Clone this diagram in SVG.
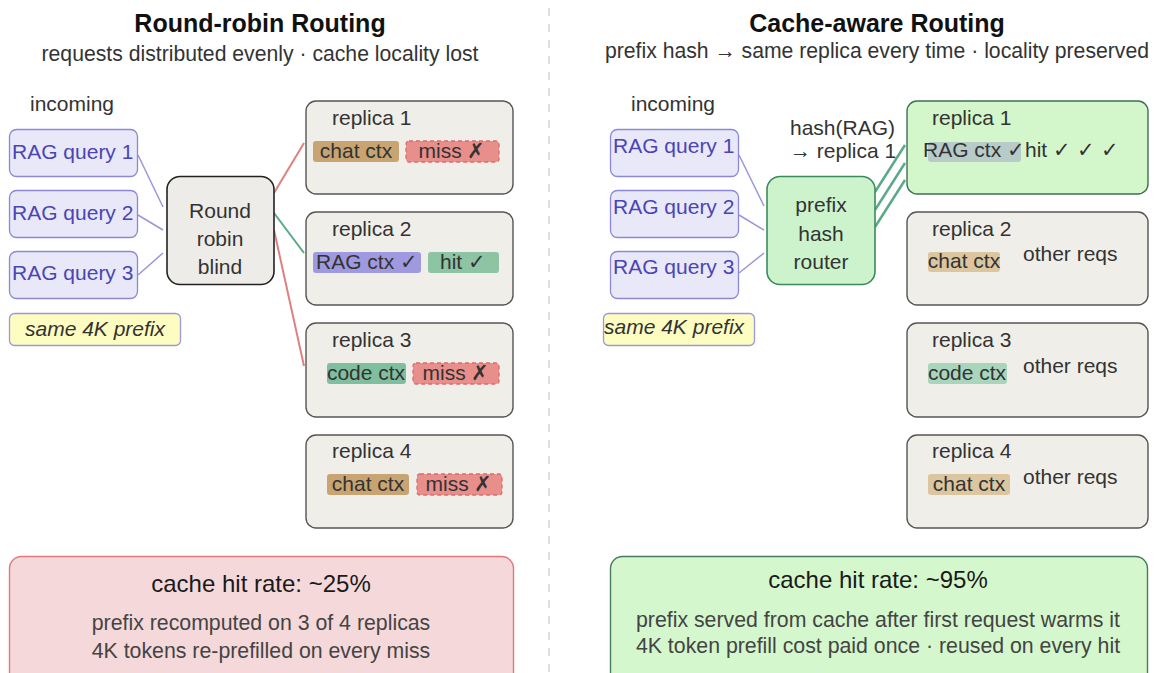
<svg xmlns="http://www.w3.org/2000/svg" width="1160" height="673" viewBox="0 0 1160 673">
  <style>
    text { font-family: "Liberation Sans", Arial, sans-serif; font-size: 21px; fill: #333; }
    .title { font-size: 25px; font-weight: bold; fill: #111; text-anchor: middle; }
    .sub { fill: #333; text-anchor: middle; font-size: 21.2px; }
    .mid { text-anchor: middle; }
    .query rect { fill: #e8e8f8; stroke: #8c88d8; stroke-width: 1.3; }
    .query text { fill: #4b44b5; }
    .note rect { fill: #fdfdc2; stroke: #9c98e0; stroke-width: 1.3; }
    .note text { font-style: italic; fill: #333; }
    .box { fill: #f0eee9; stroke: #555; stroke-width: 1.4; }
    .warm .box { fill: #d3f7cb; stroke: #3f6f55; }
    .miss { fill: #e88f8c; stroke: #e06a6a; stroke-width: 1.3; stroke-dasharray: 4 3; }
    .head { font-size: 24px; fill: #1a1a1a; text-anchor: middle; }
    .body { fill: #444; text-anchor: middle; font-size: 21.3px; }
    .link-in { stroke: #9a96dc; stroke-width: 1.5; fill: none; }
    .link-miss { stroke: #e08080; stroke-width: 2; fill: none; }
    .link-hit { stroke: #5aaa84; stroke-width: 2; fill: none; }
    .link-hash { stroke: #5aaa88; stroke-width: 2.5; fill: none; }
  </style>

  <rect width="1160" height="673" fill="#ffffff"/>

  <!-- column divider -->
  <line x1="549" y1="8" x2="549" y2="673" stroke="#cccccc" stroke-width="1.2" stroke-dasharray="8 8"/>

  <!-- headings -->
  <text class="title" x="260" y="32">Round-robin Routing</text>
  <text class="sub" x="260" y="61">requests distributed evenly · cache locality lost</text>
  <text class="title" x="877" y="32">Cache-aware Routing</text>
  <text class="sub" x="877" y="58">prefix hash → same replica every time · locality preserved</text>

  <!-- connectors -->
  <g id="connectors">
    <line class="link-in" x1="138" y1="155" x2="163" y2="207"/>
    <line class="link-in" x1="138" y1="215" x2="163" y2="230"/>
    <line class="link-in" x1="138" y1="275" x2="163" y2="253"/>
    <line class="link-miss" x1="274" y1="193" x2="304" y2="143"/>
    <line class="link-hit" x1="274" y1="213" x2="304" y2="253"/>
    <line class="link-miss" x1="274" y1="230" x2="304" y2="366"/>

    <line class="link-in" x1="739" y1="155" x2="764" y2="206"/>
    <line class="link-in" x1="739" y1="215" x2="764" y2="230"/>
    <line class="link-in" x1="739" y1="273" x2="764" y2="253"/>
    <line class="link-hash" x1="875" y1="192" x2="905" y2="145"/>
    <line class="link-hash" x1="875" y1="210" x2="905" y2="163"/>
    <line class="link-hash" x1="875" y1="227" x2="905" y2="180"/>
  </g>

  <!-- left: round-robin -->
  <text id="rr-incoming" x="30" y="111">incoming</text>
  <g id="rr-q1" class="query"><rect x="9.5" y="129.5" width="128" height="47" rx="7"/><text x="12" y="159">RAG query 1</text></g>
  <g id="rr-q2" class="query"><rect x="9.5" y="190.5" width="128" height="47" rx="7"/><text x="12" y="220">RAG query 2</text></g>
  <g id="rr-q3" class="query"><rect x="9.5" y="251.5" width="128" height="47" rx="7"/><text x="12" y="280">RAG query 3</text></g>
  <g id="rr-prefix" class="note"><rect x="9.5" y="313.5" width="171" height="32" rx="5"/><text class="mid" x="95" y="336">same 4K prefix</text></g>

  <g id="rr-router">
    <rect x="167" y="176.5" width="107" height="108" rx="13" fill="#eeece8" stroke="#222" stroke-width="1.6"/>
    <text class="mid" x="220" y="218">Round</text>
    <text class="mid" x="220" y="246">robin</text>
    <text class="mid" x="220" y="274">blind</text>
  </g>

  <g id="rr-replica1">
    <rect class="box" x="306" y="101" width="207" height="93" rx="10"/>
    <text x="332" y="125">replica 1</text>
    <rect x="313" y="141" width="86" height="21" rx="3" fill="#c8a472"/>
    <text class="mid" x="356" y="158">chat ctx</text>
    <rect class="miss" x="406" y="141" width="93" height="21" rx="3"/>
    <text class="mid" x="452" y="158">miss ✗</text>
  </g>
  <g id="rr-replica2">
    <rect class="box" x="306" y="212" width="207" height="93" rx="10"/>
    <text x="332" y="236">replica 2</text>
    <rect x="313" y="252" width="108" height="21" rx="3" fill="#9f9ae0"/>
    <text class="mid" x="367" y="269">RAG ctx ✓</text>
    <rect x="428" y="252" width="71" height="21" rx="3" fill="#8cc4a4"/>
    <text class="mid" x="463" y="269">hit ✓</text>
  </g>
  <g id="rr-replica3">
    <rect class="box" x="306" y="323" width="207" height="94" rx="10"/>
    <text x="332" y="347">replica 3</text>
    <rect x="327" y="363" width="79" height="21" rx="3" fill="#7fbf9f"/>
    <text class="mid" x="366" y="380">code ctx</text>
    <rect class="miss" x="413" y="363" width="86" height="21" rx="3"/>
    <text class="mid" x="456" y="380">miss ✗</text>
  </g>
  <g id="rr-replica4">
    <rect class="box" x="306" y="435" width="207" height="93" rx="10"/>
    <text x="332" y="458">replica 4</text>
    <rect x="327" y="474" width="82" height="21" rx="3" fill="#c8a472"/>
    <text class="mid" x="368" y="491">chat ctx</text>
    <rect class="miss" x="417" y="474" width="85" height="21" rx="3"/>
    <text class="mid" x="459" y="491">miss ✗</text>
  </g>

  <g id="rr-summary">
    <rect x="9.5" y="556.5" width="504" height="140" rx="12" fill="#f5d9da" stroke="#e07a7a" stroke-width="1.4"/>
    <text class="head" x="261" y="592">cache hit rate: ~25%</text>
    <text class="body" x="261" y="630">prefix recomputed on 3 of 4 replicas</text>
    <text class="body" x="261" y="658">4K tokens re-prefilled on every miss</text>
  </g>

  <!-- right: cache-aware -->
  <text id="ca-incoming" x="631" y="111">incoming</text>
  <g id="ca-q1" class="query"><rect x="610.5" y="129.5" width="128" height="47" rx="7"/><text x="613" y="153">RAG query 1</text></g>
  <g id="ca-q2" class="query"><rect x="610.5" y="190.5" width="128" height="47" rx="7"/><text x="613" y="214">RAG query 2</text></g>
  <g id="ca-q3" class="query"><rect x="610.5" y="251.5" width="128" height="47" rx="7"/><text x="613" y="274">RAG query 3</text></g>
  <g id="ca-prefix" class="note"><rect x="603.5" y="313.5" width="151" height="32" rx="5"/><text x="604" y="334">same 4K prefix</text></g>

  <g id="ca-hash-label">
    <text x="790" y="135">hash(RAG)</text>
    <text x="790" y="158">→ replica 1</text>
  </g>

  <g id="ca-router">
    <rect x="767" y="176.5" width="108" height="108" rx="13" fill="#cdf3cd" stroke="#3c8a5c" stroke-width="1.6"/>
    <text class="mid" x="821" y="212">prefix</text>
    <text class="mid" x="821" y="241">hash</text>
    <text class="mid" x="821" y="269">router</text>
  </g>

  <g id="ca-replica1" class="warm">
    <rect class="box" x="907" y="101" width="241" height="93" rx="10"/>
    <text x="932" y="125">replica 1</text>
    <rect x="928" y="142" width="93" height="20" rx="3" fill="#b7cbc8"/>
    <text x="923" y="157">RAG ctx ✓</text>
    <text x="1025" y="157">hit ✓ ✓ ✓</text>
  </g>
  <g id="ca-replica2">
    <rect class="box" x="907" y="212" width="241" height="93" rx="10"/>
    <text x="932" y="236">replica 2</text>
    <rect x="928" y="252" width="72" height="20" rx="3" fill="#dcc6a0"/>
    <text class="mid" x="964" y="268">chat ctx</text>
    <text x="1023" y="261">other reqs</text>
  </g>
  <g id="ca-replica3">
    <rect class="box" x="907" y="323" width="241" height="94" rx="10"/>
    <text x="932" y="347">replica 3</text>
    <rect x="928" y="363" width="79" height="21" rx="3" fill="#a9d5bd"/>
    <text class="mid" x="967" y="380">code ctx</text>
    <text x="1023" y="373">other reqs</text>
  </g>
  <g id="ca-replica4">
    <rect class="box" x="907" y="435" width="241" height="93" rx="10"/>
    <text x="932" y="458">replica 4</text>
    <rect x="928" y="474" width="82" height="21" rx="3" fill="#dcc6a0"/>
    <text class="mid" x="969" y="491">chat ctx</text>
    <text x="1023" y="484">other reqs</text>
  </g>

  <g id="ca-summary">
    <rect x="610.5" y="556.5" width="537" height="140" rx="12" fill="#d5f7cd" stroke="#4a7a60" stroke-width="1.4"/>
    <text class="head" x="878" y="588">cache hit rate: ~95%</text>
    <text class="body" x="878" y="627">prefix served from cache after first request warms it</text>
    <text class="body" x="878" y="653">4K token prefill cost paid once · reused on every hit</text>
  </g>
</svg>
